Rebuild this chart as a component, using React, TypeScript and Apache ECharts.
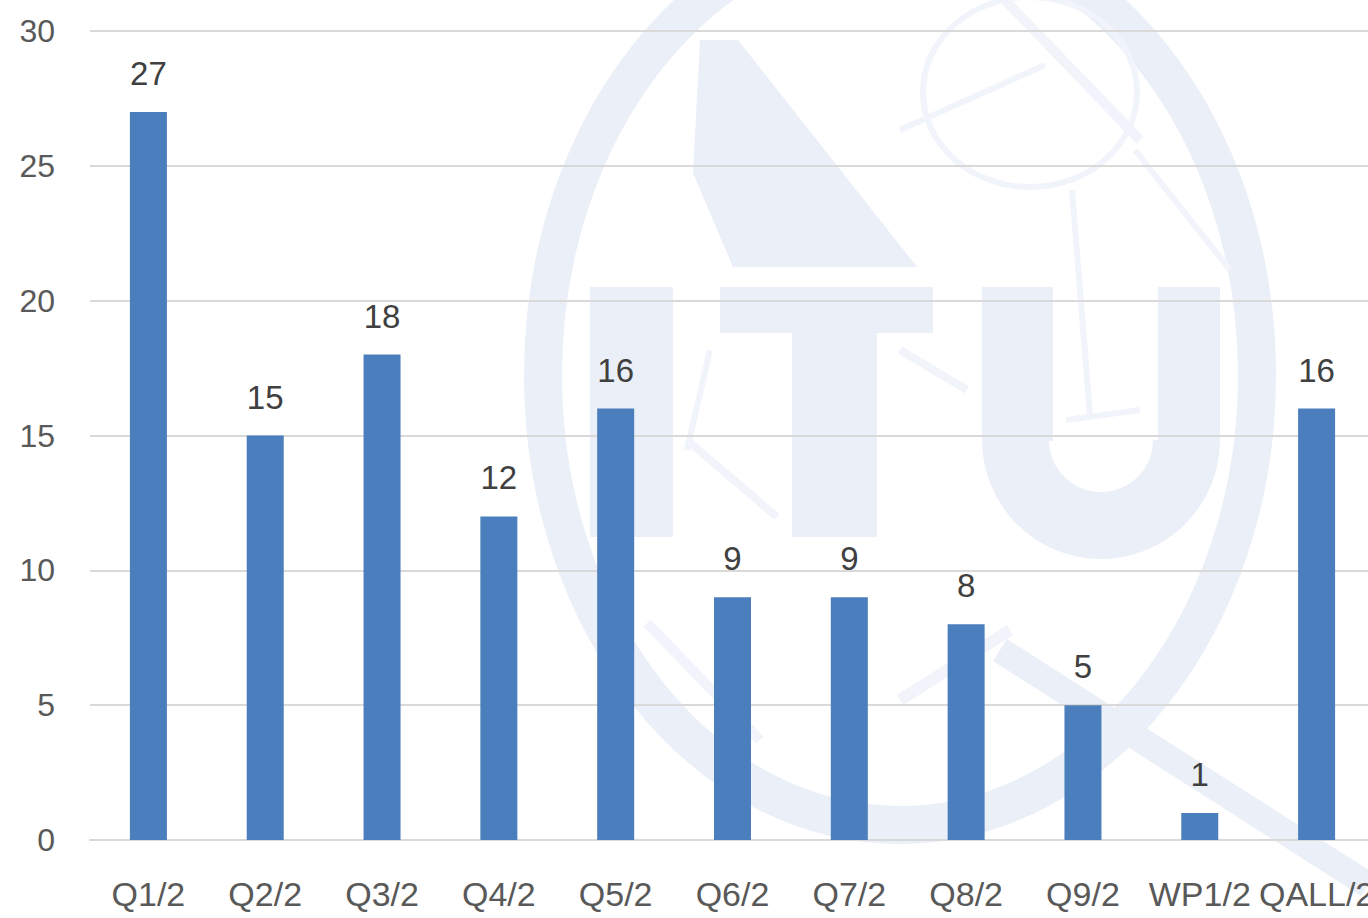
import React, { useEffect, useRef } from "react";
import * as echarts from "echarts";

const categories = ["Q1/2", "Q2/2", "Q3/2", "Q4/2", "Q5/2", "Q6/2", "Q7/2", "Q8/2", "Q9/2", "WP1/2", "QALL/2"];
const values = [27, 15, 18, 12, 16, 9, 9, 8, 5, 1, 16];
const yMin = 0;
const yMax = 30;
const yStep = 5;

const WM = "#eaeff8";
const WM2 = "#f1f4fa";

function watermark() {
  const z = -10;
  return [
    { type: "ellipse", z, silent: true, shape: { cx: 900, cy: 375, rx: 357, ry: 450 }, style: { fill: "none", stroke: WM, lineWidth: 38 } },
    { type: "polygon", z, silent: true, shape: { points: [[700, 40], [738, 40], [917, 267], [733, 267], [693, 173]] }, style: { fill: WM } },
    // I
    { type: "rect", z, silent: true, shape: { x: 590, y: 287, width: 83, height: 250 }, style: { fill: WM } },
    // T
    { type: "rect", z, silent: true, shape: { x: 720, y: 287, width: 213, height: 46 }, style: { fill: WM } },
    { type: "rect", z, silent: true, shape: { x: 792, y: 287, width: 85, height: 250 }, style: { fill: WM } },
    // U
    { type: "rect", z, silent: true, shape: { x: 982, y: 287, width: 71, height: 154 }, style: { fill: WM } },
    { type: "rect", z, silent: true, shape: { x: 1158, y: 287, width: 62, height: 154 }, style: { fill: WM } },
    { type: "sector", z, silent: true, shape: { cx: 1101, cy: 440, r0: 52, r: 119, startAngle: 0, endAngle: Math.PI, clockwise: true }, style: { fill: WM } },
    // small globe circle
    { type: "ellipse", z, silent: true, shape: { cx: 1030, cy: 92, rx: 107, ry: 95 }, style: { fill: "none", stroke: WM2, lineWidth: 6 } },
    { type: "line", z, silent: true, shape: { x1: 900, y1: 130, x2: 1045, y2: 65 }, style: { stroke: WM2, lineWidth: 6 } },
    { type: "line", z, silent: true, shape: { x1: 1072, y1: 190, x2: 1090, y2: 415 }, style: { stroke: WM2, lineWidth: 6 } },
    { type: "line", z, silent: true, shape: { x1: 1066, y1: 420, x2: 1140, y2: 410 }, style: { stroke: WM2, lineWidth: 6 } },
    { type: "line", z, silent: true, shape: { x1: 1135, y1: 150, x2: 1230, y2: 270 }, style: { stroke: WM2, lineWidth: 6 } },
    { type: "line", z, silent: true, shape: { x1: 1005, y1: 0, x2: 1140, y2: 140 }, style: { stroke: WM2, lineWidth: 10 } },
    // lower thin strokes
    { type: "line", z, silent: true, shape: { x1: 710, y1: 350, x2: 687, y2: 450 }, style: { stroke: WM2, lineWidth: 6 } },
    { type: "line", z, silent: true, shape: { x1: 687, y1: 440, x2: 777, y2: 517 }, style: { stroke: WM2, lineWidth: 8 } },
    { type: "line", z, silent: true, shape: { x1: 647, y1: 623, x2: 760, y2: 740 }, style: { stroke: WM2, lineWidth: 10 } },
    { type: "line", z, silent: true, shape: { x1: 900, y1: 350, x2: 967, y2: 390 }, style: { stroke: WM2, lineWidth: 8 } },
    // swoosh
    { type: "line", z, silent: true, shape: { x1: 1000, y1: 650, x2: 1368, y2: 885 }, style: { stroke: WM, lineWidth: 26 } },
    { type: "line", z, silent: true, shape: { x1: 900, y1: 700, x2: 1010, y2: 630 }, style: { stroke: WM2, lineWidth: 12 } },
  ];
}

export default function App() {
  const ref = useRef<HTMLDivElement>(null);
  useEffect(() => {
    if (!ref.current) return;
    const chart = echarts.init(ref.current, null, { renderer: "svg" });
    chart.setOption({
      animation: false,
      backgroundColor: "#ffffff",
      textStyle: { fontFamily: "Liberation Sans" },
      graphic: { elements: watermark() },
      grid: { left: 90, top: 31, width: 1285, height: 809, containLabel: false },
      xAxis: {
        type: "category",
        data: categories,
        axisTick: { show: false },
        axisLine: { lineStyle: { color: "#d9d9d9", width: 2 } },
        axisLabel: { interval: 0, fontSize: 34, color: "#595959", margin: 37, fontFamily: "Liberation Sans" },
      },
      yAxis: {
        type: "value",
        min: yMin,
        max: yMax,
        interval: yStep,
        axisLine: { show: false },
        axisTick: { show: false },
        splitLine: { lineStyle: { color: "#d9d9d9", width: 2 } },
        axisLabel: { fontSize: 32, color: "#595959", margin: 35, fontFamily: "Liberation Sans" },
      },
      series: [
        {
          type: "bar",
          data: values,
          barWidth: 37,
          itemStyle: { color: "#4a7ebd" },
          label: { show: true, position: "top", distance: 22, fontSize: 33, color: "#404040", fontFamily: "Liberation Sans" },
        },
      ],
    });
    return () => chart.dispose();
  }, []);
  return (
    <div style={{ position: "fixed", left: 0, top: 0, width: 1368, height: 918, overflow: "hidden" }}>
      <div ref={ref} style={{ width: 1420, height: 918 }} />
    </div>
  );
}
